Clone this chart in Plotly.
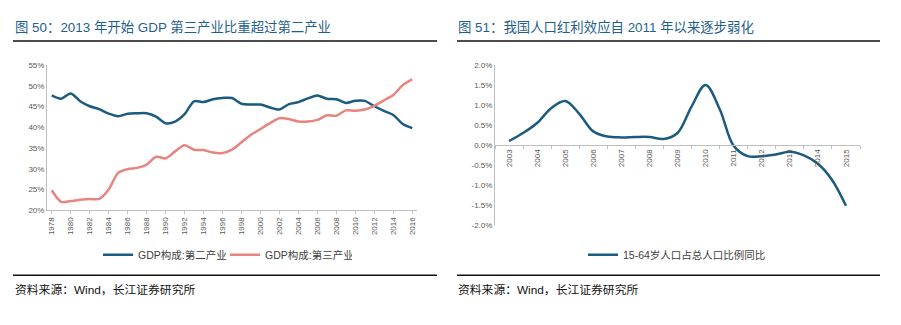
import plotly.graph_objects as go

W, H = 901, 325

# ---------- data ----------
years = list(range(1978, 2017))
secondary = [47.7, 46.9, 48.2, 46.3, 45.1, 44.4, 43.3, 42.7, 43.3, 43.4,
             43.4, 42.6, 41.0, 41.4, 43.2, 46.3, 46.1, 46.8, 47.1, 47.1,
             45.7, 45.5, 45.5, 44.8, 44.3, 45.6, 46.1, 47.0, 47.7, 46.9,
             46.8, 45.9, 46.4, 46.4, 45.1, 44.0, 43.0, 40.8, 39.8]
tertiary = [24.8, 22.0, 22.2, 22.5, 22.7, 22.7, 25.0, 29.0, 29.9, 30.2,
            31.0, 32.9, 32.5, 34.2, 35.7, 34.6, 34.5, 33.9, 33.8, 34.6,
            36.4, 38.2, 39.6, 41.0, 42.2, 42.0, 41.4, 41.4, 41.8, 42.9,
            42.8, 44.1, 44.0, 44.3, 45.2, 46.5, 47.8, 50.2, 51.6]
left_yticks = [20, 25, 30, 35, 40, 45, 50, 55]
left_xticks = list(range(1978, 2017, 2))

pop_x = [2003, 2003.5, 2004, 2004.5, 2005, 2005.5, 2006, 2006.5, 2007, 2007.5,
         2008, 2008.5, 2009, 2009.5, 2010, 2010.5, 2011, 2011.5, 2012, 2012.5,
         2013, 2013.5, 2014, 2014.5, 2015]
pop_y = [0.10, 0.30, 0.55, 0.92, 1.10, 0.78, 0.34, 0.21, 0.19, 0.20,
         0.20, 0.15, 0.30, 0.96, 1.50, 0.90, -0.02, -0.28, -0.28, -0.24,
         -0.17, -0.26, -0.47, -0.87, -1.52]
right_years = list(range(2003, 2016))
right_yticks = [2.0, 1.5, 1.0, 0.5, 0.0, -0.5, -1.0, -1.5, -2.0]

title_left = "图 50：2013 年开始 GDP 第三产业比重超过第二产业"
title_right = "图 51：我国人口红利效应自 2011 年以来逐步弱化"
source_text = "资料来源：Wind，长江证券研究所"
name_sec = "GDP构成:第二产业"
name_ter = "GDP构成:第三产业"
name_pop = "15-64岁人口占总人口比例同比"

# ---------- style ----------
FONT = "Arial, 'Liberation Sans', 'Noto Sans CJK SC', sans-serif"
BLUE = "#1b5b7f"
RED = "#e8847f"
TITLE_C = "#1f5f8c"
AX_C = "#bfbfbf"
TICK_C = "#595959"

def px(x):
    return x / W

def py(y):
    return 1 - y / H

fig = go.Figure()
fig.add_trace(go.Scatter(x=years, y=secondary, name=name_sec, mode="lines",
                         line=dict(color=BLUE, width=2.5, shape="spline", smoothing=0.8),
                         xaxis="x", yaxis="y", legend="legend"))
fig.add_trace(go.Scatter(x=years, y=tertiary, name=name_ter, mode="lines",
                         line=dict(color=RED, width=2.5, shape="spline", smoothing=0.8),
                         xaxis="x", yaxis="y", legend="legend"))
fig.add_trace(go.Scatter(x=pop_x, y=pop_y, name=name_pop, mode="lines",
                         line=dict(color=BLUE, width=2.5, shape="spline", smoothing=1.0),
                         xaxis="x2", yaxis="y2", legend="legend2"))

tickfont = dict(family=FONT, size=8, color=TICK_C)
legfont = dict(family=FONT, size=10.5, color="#404040")

fig.update_layout(
    width=W, height=H,
    margin=dict(l=0, r=0, t=0, b=0),
    paper_bgcolor="white", plot_bgcolor="white",
    font=dict(family=FONT),
    xaxis=dict(domain=[px(47), px(417)], range=[1977.5, 2016.5],
               tickvals=left_xticks, ticktext=[str(v) for v in left_xticks],
               tickangle=-90, tickfont=tickfont, showgrid=False, zeroline=False,
               showline=True, linecolor=AX_C, linewidth=1,
               ticks="outside", ticklen=3, tickcolor=AX_C, anchor="y"),
    yaxis=dict(domain=[py(212), py(63)], range=[20, 55],
               tickvals=left_yticks, ticktext=[f"{v}%" for v in left_yticks],
               tickfont=tickfont, showgrid=False, zeroline=False,
               showline=True, linecolor=AX_C, linewidth=1, ticks="", anchor="x"),
    xaxis2=dict(domain=[px(495), px(860)], range=[2002.5, 2015.5],
                tickvals=right_years, ticktext=[str(v) for v in right_years],
                tickangle=-90, tickfont=tickfont, showgrid=False, zeroline=False,
                showline=True, linecolor=AX_C, linewidth=1, ticks="",
                minor=dict(tickvals=[y - 0.5 for y in right_years] + [2015.5],
                           ticks="outside", ticklen=3, tickcolor=AX_C, showgrid=False),
                anchor="free", position=py(145.2)),
    yaxis2=dict(domain=[py(227.3), py(62.7)], range=[-2, 2],
                tickvals=right_yticks, ticktext=[f"{v:.1f}%" for v in right_yticks],
                tickfont=tickfont, showgrid=False, zeroline=False,
                showline=True, linecolor=AX_C, linewidth=1, ticks="", anchor="x2"),
    legend=dict(orientation="h", x=px(98), xanchor="left", y=py(258), yanchor="middle",
                font=legfont, bgcolor="rgba(0,0,0,0)", entrywidth=82,
                entrywidthmode="pixels"),
    legend2=dict(orientation="h", x=px(677), xanchor="center", y=py(258), yanchor="middle",
                 font=legfont, bgcolor="rgba(0,0,0,0)"),
    showlegend=True,
)

# header/footer rules
for x0, x1 in [(13, 437), (457, 880)]:
    for yy in (38, 279):
        fig.add_shape(type="line", xref="paper", yref="paper",
                      x0=px(x0), x1=px(x1), y0=py(yy), y1=py(yy),
                      line=dict(color="#111111", width=1.5))

fig.add_annotation(text=title_left, xref="paper", yref="paper", x=px(13), y=py(24),
                   xanchor="left", yanchor="middle", showarrow=False,
                   font=dict(family=FONT, size=13.4, color=TITLE_C))
fig.add_annotation(text=title_right, xref="paper", yref="paper", x=px(456), y=py(24),
                   xanchor="left", yanchor="middle", showarrow=False,
                   font=dict(family=FONT, size=13.4, color=TITLE_C))
for x0 in (13, 456):
    fig.add_annotation(text=source_text, xref="paper", yref="paper", x=px(x0), y=py(294),
                       xanchor="left", yanchor="middle", showarrow=False,
                       font=dict(family=FONT, size=11.8, color="#111111"))

fig.write_html("out.html")
